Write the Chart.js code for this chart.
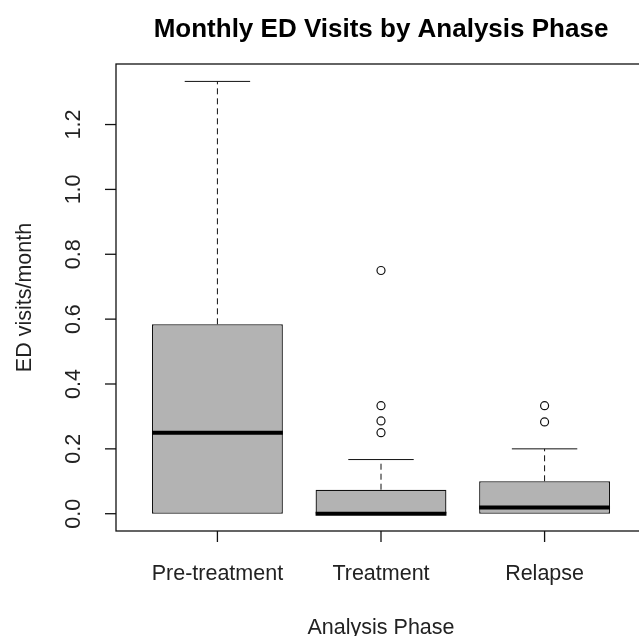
<!DOCTYPE html>
<html>
<head>
<meta charset="utf-8">
<script src="https://cdn.jsdelivr.net/npm/chart.js@4.4.0/dist/chart.umd.min.js"></script>
<style>
html, body { margin: 0; padding: 0; background: #fff; overflow: hidden; }
</style>
</head>
<body>
<canvas id="chart" width="700" height="636"></canvas>
<script>
// box plot summary
const phases = ['Pre-treatment', 'Treatment', 'Relapse'];
const q1 = [0, 0, 0];
const medians = [0.25, 0, 0.019];
const q3 = [0.584, 0.074, 0.1];
const whiskLow = [0, 0, 0];
const whiskHigh = [1.333, 0.167, 0.2];
const outlierPhase = [2, 2, 2, 2, 3, 3];
const outlierValue = [0.75, 0.333, 0.286, 0.25, 0.333, 0.283];
const yTicks = [0, 0.2, 0.4, 0.6, 0.8, 1.0, 1.2];

const FONT = '"Liberation Sans", Arial, sans-serif';

// whiskers, staples, medians, frame, axes and texts (R base style)
const rBoxplot = {
    id: 'rBoxplot',
    beforeDatasetsDraw(chart) {
        const {ctx, scales: {x, y}} = chart;
        ctx.save();
        ctx.strokeStyle = '#111';
        ctx.lineWidth = 1;
        phases.forEach((p, i) => {
            const cx = x.getPixelForValue(i + 1);
            ctx.setLineDash([6, 4]);
            ctx.beginPath();
            ctx.moveTo(cx, y.getPixelForValue(q3[i]));
            ctx.lineTo(cx, y.getPixelForValue(whiskHigh[i]));
            ctx.moveTo(cx, y.getPixelForValue(q1[i]));
            ctx.lineTo(cx, y.getPixelForValue(whiskLow[i]));
            ctx.stroke();
            ctx.setLineDash([]);
            const l = x.getPixelForValue(i + 1 - 0.2), r = x.getPixelForValue(i + 1 + 0.2);
            ctx.beginPath();
            ctx.moveTo(l, y.getPixelForValue(whiskHigh[i]));
            ctx.lineTo(r, y.getPixelForValue(whiskHigh[i]));
            if (whiskLow[i] < q1[i]) {
                ctx.moveTo(l, y.getPixelForValue(whiskLow[i]));
                ctx.lineTo(r, y.getPixelForValue(whiskLow[i]));
            }
            ctx.stroke();
        });
        ctx.restore();
    },
    afterDatasetsDraw(chart) {
        const {ctx, scales: {x, y}} = chart;
        ctx.save();
        ctx.strokeStyle = '#000';
        ctx.lineWidth = 4;
        phases.forEach((p, i) => {
            const l = x.getPixelForValue(i + 1 - 0.4), r = x.getPixelForValue(i + 1 + 0.4);
            const my = y.getPixelForValue(medians[i]);
            ctx.beginPath();
            ctx.moveTo(l, my);
            ctx.lineTo(r, my);
            ctx.stroke();
        });
        ctx.restore();
    },
    afterDraw(chart) {
        const {ctx, chartArea: a, scales: {x, y}} = chart;
        ctx.save();
        ctx.strokeStyle = '#111';
        ctx.lineWidth = 1.3;
        ctx.strokeRect(a.left, a.top, a.right - a.left, a.bottom - a.top);

        // y axis
        ctx.fillStyle = '#222';
        ctx.font = '21.5px ' + FONT;
        ctx.textAlign = 'center';
        ctx.textBaseline = 'middle';
        yTicks.forEach(v => {
            const py = y.getPixelForValue(v);
            ctx.beginPath();
            ctx.moveTo(a.left, py);
            ctx.lineTo(a.left - 11, py);
            ctx.stroke();
            ctx.save();
            ctx.translate(74, py);
            ctx.rotate(-Math.PI / 2);
            ctx.fillText(v.toFixed(1), 0, 0);
            ctx.restore();
        });
        ctx.save();
        ctx.translate(25, (a.top + a.bottom) / 2);
        ctx.rotate(-Math.PI / 2);
        ctx.fillText('ED visits/month', 0, 0);
        ctx.restore();

        // x axis
        ctx.textBaseline = 'alphabetic';
        phases.forEach((p, i) => {
            const px = x.getPixelForValue(i + 1);
            ctx.beginPath();
            ctx.moveTo(px, a.bottom);
            ctx.lineTo(px, a.bottom + 11);
            ctx.stroke();
            ctx.fillText(p, px, 580);
        });
        const mid = x.getPixelForValue(2);
        ctx.fillText('Analysis Phase', mid, 634);

        ctx.font = 'bold 26px ' + FONT;
        ctx.fillStyle = '#000';
        ctx.fillText('Monthly ED Visits by Analysis Phase', mid, 37);
        ctx.restore();
    }
};

const ctx = document.getElementById('chart').getContext('2d');
const myChart = new Chart(ctx, {
    type: 'bar',
    data: {
        datasets: [{
            type: 'scatter',
            data: outlierValue.map((v, i) => ({x: outlierPhase[i], y: v})),
            pointStyle: 'circle',
            pointRadius: 4,
            pointBorderWidth: 1.2,
            pointBorderColor: '#111',
            pointBackgroundColor: 'rgba(0,0,0,0)'
        }, {
            type: 'bar',
            data: phases.map((p, i) => ({x: i + 1, y: [q1[i], q3[i]]})),
            backgroundColor: '#b3b3b3',
            borderColor: '#111',
            borderWidth: 1.3,
            borderSkipped: false,
            barPercentage: 0.8,
            categoryPercentage: 1.0
        }]
    },
    options: {
        responsive: false,
        animation: false,
        layout: {padding: {left: 116, top: 64, right: 54, bottom: 105}},
        plugins: {legend: {display: false}, tooltip: {enabled: false}, title: {display: false}},
        scales: {
            x: {
                type: 'linear', min: 0.38, max: 3.62, offset: false, display: false,
                // one tick per phase so bars get the full category width
                afterBuildTicks: scale => { scale.ticks = phases.map((p, i) => ({value: i + 1})); }
            },
            y: {type: 'linear', min: -0.0533, max: 1.3867, beginAtZero: false, display: false}
        }
    },
    plugins: [rBoxplot]
});
</script>
</body>
</html>
